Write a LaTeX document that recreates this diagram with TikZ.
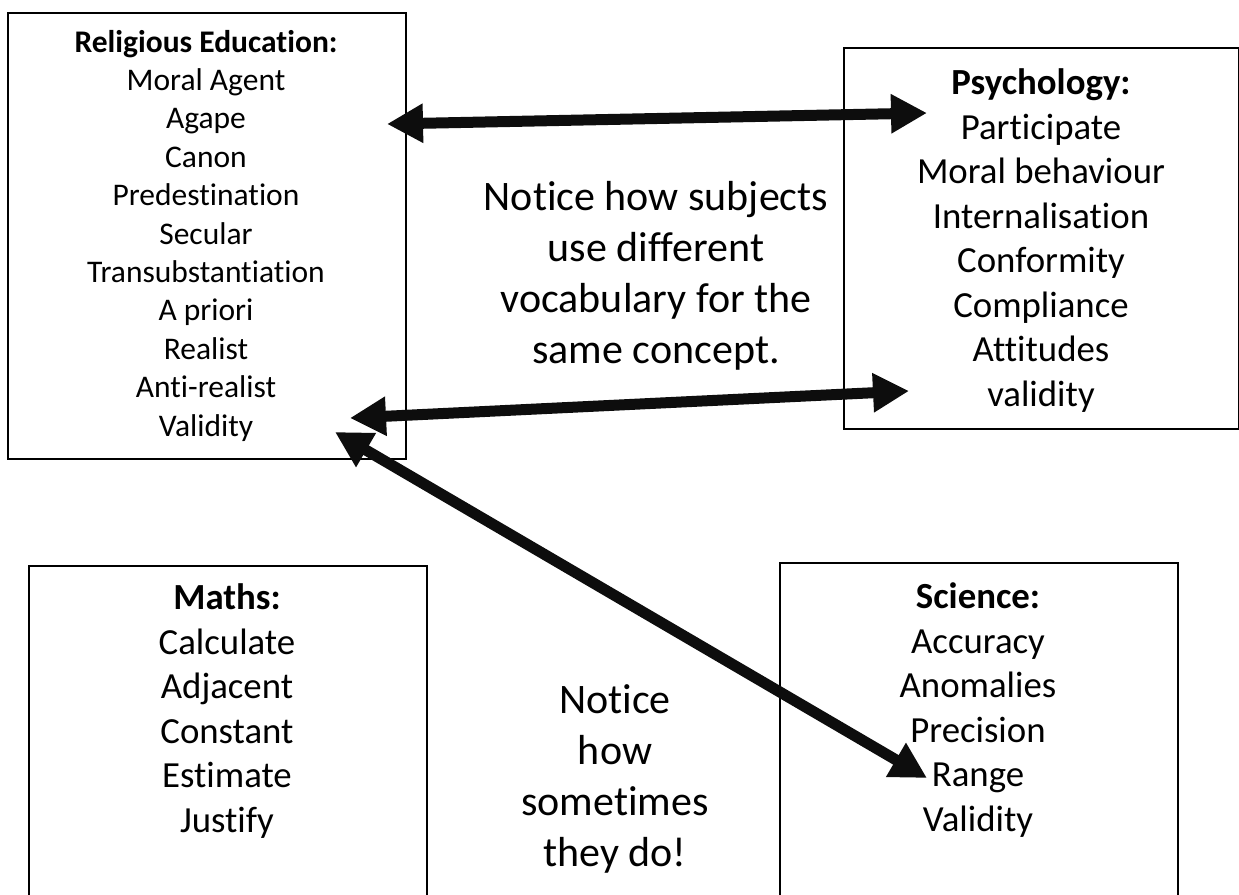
\documentclass[tikz,border=0pt]{standalone}
\usepackage{fontspec}
\setmainfont[Ligatures=NoCommon]{Carlito}
\usetikzlibrary{arrows.meta}
\definecolor{arrowink}{HTML}{0D0D0D}
\begin{document}
\begin{tikzpicture}[x=1bp,y=-1bp,
  framebox/.style={draw=black, line width=1.6bp, inner sep=0pt, anchor=north west},
  txt/.style={align=center, anchor=north, inner sep=0pt, text=black},
  fsmall/.style={font=\fontsize{31.5bp}{38.4bp}\selectfont},
  fmid/.style={font=\fontsize{36.8bp}{44.5bp}\selectfont},
  fbig/.style={font=\fontsize{42bp}{51bp}\selectfont},
  dblarrow/.style={draw=arrowink, line width=11bp,
    {Triangle[length=36bp,width=37bp]}-{Triangle[length=36bp,width=37bp]}}
]
\useasboundingbox (0,0) rectangle (1239,895);
\clip (0,0) rectangle (1239,895);

% boxes
\node[framebox, minimum width=398bp, minimum height=446bp] (rebox) at (7,12) {};
\node[framebox, minimum width=395bp, minimum height=381bp] (psybox) at (843,47) {};
\node[framebox, minimum width=398bp, minimum height=345bp] (mathbox) at (28,565) {};
\node[framebox, minimum width=398bp, minimum height=345bp] (scibox) at (779,562) {};

% texts
\node[txt, fsmall] (retext) at (206,25.1) {\strut\textbf{Religious Education:}\\Moral Agent\\Agape\\Canon\\Predestination\\Secular\\Transubstantiation\\A priori\\Realist\\Anti-realist\\Validity};
\node[txt, fmid] (psytext) at (1041,63.6) {\strut\textbf{Psychology:}\\Participate\\Moral behaviour\\Internalisation\\Conformity\\Compliance\\Attitudes\\validity};
\node[txt, fmid] (mathtext) at (227,578.5) {\strut\textbf{Maths:}\\Calculate\\Adjacent\\Constant\\Estimate\\Justify};
\node[txt, fmid] (scitext) at (978,577.5) {\strut\textbf{Science:}\\Accuracy\\Anomalies\\Precision\\Range\\Validity};
\node[txt, fbig] (note1) at (656,174.7) {\strut Notice how subjects\\use different\\vocabulary for the\\same concept.};
\node[txt, fbig] (note2) at (615,677.7) {\strut Notice\\how\\sometimes\\they do!};

% arrow ends
\coordinate (reAgape) at (387,124);
\coordinate (psyPart) at (927,113);
\coordinate (reValA) at (350,418);
\coordinate (psyVal) at (909,391);
\coordinate (reValB) at (335,432);
\coordinate (sciRange) at (927,778);

\draw[dblarrow] (reAgape) -- (psyPart);
\draw[dblarrow] (reValA) -- (psyVal);
\draw[dblarrow] (reValB) -- (sciRange);
\end{tikzpicture}
\end{document}
